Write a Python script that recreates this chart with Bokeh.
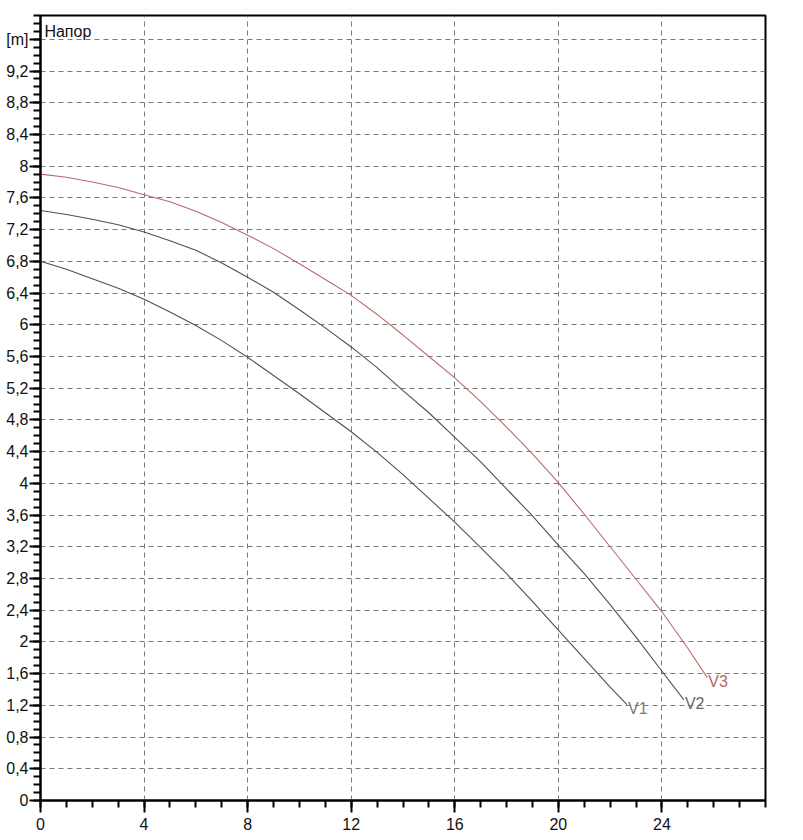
from bokeh.plotting import figure
from bokeh.models import FixedTicker, Label, Range1d, ColumnDataSource
from bokeh.embed import file_html
from bokeh.resources import INLINE

# ---- data ----
q_v1 = [0, 1, 2, 3, 4, 5, 6, 7, 8, 9, 10, 11, 12, 13, 14, 15, 16, 17, 18, 19,
        20, 21, 22, 22.65]
h_v1 = [6.80, 6.70, 6.58, 6.46, 6.32, 6.16, 5.99, 5.80, 5.59, 5.36, 5.13, 4.89,
        4.65, 4.39, 4.11, 3.81, 3.51, 3.19, 2.86, 2.51, 2.15, 1.79, 1.43, 1.21]

q_v2 = [0, 1, 2, 3, 4, 5, 6, 7, 8, 9, 10, 11, 12, 13, 14, 15, 16, 17, 18, 19,
        20, 21, 22, 23, 24, 24.85]
h_v2 = [7.44, 7.39, 7.33, 7.26, 7.17, 7.06, 6.94, 6.78, 6.60, 6.41, 6.19, 5.96,
        5.72, 5.46, 5.17, 4.89, 4.58, 4.27, 3.93, 3.59, 3.22, 2.86, 2.47, 2.06,
        1.63, 1.27]

q_v3 = [0, 1, 2, 3, 4, 5, 6, 7, 8, 9, 10, 11, 12, 13, 14, 15, 16, 17, 18, 19,
        20, 21, 22, 23, 24, 25, 25.75]
h_v3 = [7.90, 7.86, 7.80, 7.73, 7.64, 7.55, 7.43, 7.29, 7.13, 6.96, 6.77, 6.57,
        6.37, 6.13, 5.87, 5.60, 5.33, 5.03, 4.71, 4.37, 4.01, 3.61, 3.20, 2.79,
        2.38, 1.92, 1.55]

series_names = ["V1", "V2", "V3"]

x_major = [0, 4, 8, 12, 16, 20, 24]
x_minor = list(range(0, 29))
y_major = [0, 0.4, 0.8, 1.2, 1.6, 2, 2.4, 2.8, 3.2, 3.6, 4, 4.4, 4.8, 5.2, 5.6,
           6, 6.4, 6.8, 7.2, 7.6, 8, 8.4, 8.8, 9.2, 9.6]
y_labels = ["0", "0,4", "0,8", "1,2", "1,6", "2", "2,4", "2,8", "3,2", "3,6", "4",
            "4,4", "4,8", "5,2", "5,6", "6", "6,4", "6,8", "7,2", "7,6", "8", "8,4",
            "8,8", "9,2", "[m]"]
y_minor = [round(0.1 * i, 1) for i in range(0, 100)]
title_text = "Напор"

FONT = "Liberation Sans"

p = figure(width=803, height=840, output_backend="svg", toolbar_location=None,
           x_range=Range1d(0, 28), y_range=Range1d(0, 9.9),
           min_border_left=40, min_border_right=38, min_border_top=15,
           min_border_bottom=40)
p.background_fill_color = "white"
p.border_fill_color = "white"
p.outline_line_color = "black"
p.outline_line_width = 2

for ax in (p.xaxis[0], p.yaxis[0]):
    ax.axis_line_width = 2
    ax.axis_line_color = "black"
    ax.major_tick_line_width = 2
    ax.minor_tick_line_width = 2
    ax.major_tick_line_color = "black"
    ax.minor_tick_line_color = "black"
    ax.major_tick_in = 0
    ax.minor_tick_in = 0
    ax.major_label_text_font = FONT
    ax.major_label_text_font_size = "16px"
    ax.major_label_text_color = "#111111"

p.xaxis[0].ticker = FixedTicker(ticks=x_major, minor_ticks=x_minor)
p.xaxis[0].major_tick_out = 12
p.xaxis[0].minor_tick_out = 7
p.xaxis[0].major_label_standoff = 5

p.yaxis[0].ticker = FixedTicker(ticks=y_major, minor_ticks=y_minor)
p.yaxis[0].major_label_overrides = {v: s for v, s in zip(y_major, y_labels)}
p.yaxis[0].major_tick_out = 11
p.yaxis[0].minor_tick_out = 7
p.yaxis[0].major_label_standoff = 1

for g in (p.xgrid[0], p.ygrid[0]):
    g.grid_line_color = "#7a7a7a"
    g.grid_line_dash = "5 4"
    g.grid_line_width = 1

colors = ["#505050", "#505050", "#b86a6a"]
label_colors = ["#7a7a7a", "#6a6a6a", "#b06868"]
qs = [q_v1, q_v2, q_v3]
hs = [h_v1, h_v2, h_v3]
for name, q, h, c, lc in zip(series_names, qs, hs, colors, label_colors):
    src = ColumnDataSource(dict(q=q, h=h))
    p.line("q", "h", source=src, line_color=c, line_width=1.1)
    p.add_layout(Label(x=q[-1], y=h[-1], text=name, x_offset=1, y_offset=-4,
                       text_baseline="middle", text_align="left",
                       text_font=FONT, text_font_size="16px", text_color=lc))

p.add_layout(Label(x=0.15, y=9.70, text=title_text, text_baseline="middle",
                   text_font=FONT, text_font_size="16px", text_color="#111111"))

open("out.html", "w").write(file_html(p, INLINE))
